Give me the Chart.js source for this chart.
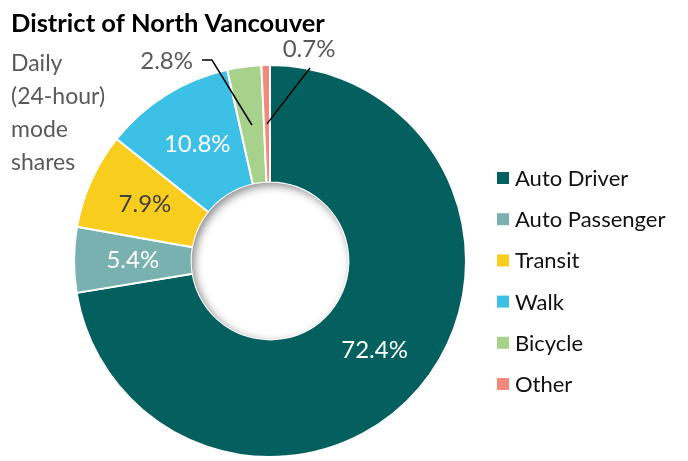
<!DOCTYPE html>
<html>
<head>
<meta charset="utf-8">
<script src="https://cdn.jsdelivr.net/npm/chart.js@4"></script>
<style>
  html, body { margin: 0; padding: 0; background: #fff; }
  #wrap { width: 688px; height: 461px; position: relative; }
</style>
</head>
<body>
<div id="wrap"><canvas id="chart" width="688" height="461"></canvas></div>
<script>
// Data
const modes = ['Auto Driver', 'Auto Passenger', 'Transit', 'Walk', 'Bicycle', 'Other'];
const shares = [72.4, 5.4, 7.9, 10.8, 2.8, 0.7];
const modeColors = ['#03605F', '#79B1B0', '#F9CD1E', '#3DC0E6', '#A8D18B', '#F4887A'];
const labelColors = ['#ffffff', '#ffffff', '#404040', '#ffffff', '#595959', '#595959'];

const titleText = 'District of North Vancouver';
const noteLines = ['Daily', '(24-hour)', 'mode', 'shares'];

const FONT = 'Lato, "Open Sans", sans-serif';

// labels, legend and titles drawn on top of the doughnut
const sliceLabels = {
    id: 'sliceLabels',
    afterDatasetsDraw(chart) {
        const ctx = chart.ctx;
        const meta = chart.getDatasetMeta(0);
        ctx.save();

        // inner shadow in the hole
        const a0 = meta.data[0];
        ctx.beginPath();
        ctx.arc(a0.x, a0.y, a0.innerRadius, 0, Math.PI * 2);
        ctx.clip();
        ctx.shadowColor = 'rgba(0,0,0,0.45)';
        ctx.shadowBlur = 9;
        ctx.shadowOffsetX = 3;
        ctx.shadowOffsetY = 3;
        ctx.lineWidth = 30;
        ctx.strokeStyle = '#fff';
        ctx.beginPath();
        ctx.arc(a0.x, a0.y, a0.innerRadius + 15, 0, Math.PI * 2);
        ctx.stroke();
        ctx.restore();

        ctx.save();
        ctx.font = '24px ' + FONT;
        ctx.textBaseline = 'middle';
        ctx.textAlign = 'center';
        meta.data.forEach((arc, i) => {
            const txt = shares[i].toFixed(1) + '%';
            const mid = (arc.startAngle + arc.endAngle) / 2;
            if (shares[i] > 4) {
                const r = (arc.innerRadius + arc.outerRadius) / 2;
                ctx.fillStyle = labelColors[i];
                ctx.fillText(txt, arc.x + Math.cos(mid) * r, arc.y + Math.sin(mid) * r);
            } else {
                // small slices: outside label with leader line
                const r = (arc.innerRadius + arc.outerRadius) / 2;
                const px = arc.x + Math.cos(mid) * r;
                const py = arc.y + Math.sin(mid) * r;
                const top = arc.y - arc.outerRadius;
                ctx.strokeStyle = '#000';
                ctx.lineWidth = 1.5;
                ctx.beginPath();
                ctx.fillStyle = labelColors[i];
                if (i === 4) {
                    ctx.moveTo(px, py);
                    ctx.lineTo(arc.x - 58, top - 5);
                    ctx.lineTo(arc.x - 68, top - 5);
                    ctx.stroke();
                    ctx.textAlign = 'right';
                    ctx.fillText(txt, arc.x - 77, top - 4);
                } else {
                    ctx.moveTo(px, py);
                    ctx.lineTo(arc.x + 40, top + 3);
                    ctx.stroke();
                    ctx.textAlign = 'center';
                    ctx.fillText(txt, arc.x + 39, top - 16);
                }
            }
        });
        ctx.restore();

        // legend
        ctx.save();
        ctx.font = '22px ' + FONT;
        ctx.textBaseline = 'middle';
        ctx.textAlign = 'left';
        modes.forEach((m, i) => {
            const y = 178 + i * 41.2;
            ctx.fillStyle = modeColors[i];
            ctx.fillRect(497, y - 6, 12, 12);
            ctx.fillStyle = '#111';
            ctx.fillText(m, 515, y + 1);
        });
        ctx.restore();

        // title and side note
        ctx.save();
        ctx.textAlign = 'left';
        ctx.textBaseline = 'alphabetic';
        ctx.fillStyle = '#000';
        ctx.font = 'bold 25.5px ' + FONT;
        ctx.fillText(titleText, 11, 32);
        ctx.fillStyle = '#595959';
        ctx.font = '23px ' + FONT;
        noteLines.forEach((l, k) => ctx.fillText(l, 11, 71 + k * 33));
        ctx.restore();
    }
};

new Chart(document.getElementById('chart'), {
    type: 'doughnut',
    data: {
        labels: modes,
        datasets: [{
            data: shares,
            backgroundColor: modeColors,
            borderColor: '#fff',
            borderWidth: 2
        }]
    },
    options: {
        responsive: false,
        animation: false,
        cutout: '40%',
        layout: { padding: { top: 64, bottom: 3, left: 48, right: 196 } },
        plugins: {
            legend: { display: false },
            tooltip: { enabled: false }
        }
    },
    plugins: [sliceLabels]
});
</script>
</body>
</html>
